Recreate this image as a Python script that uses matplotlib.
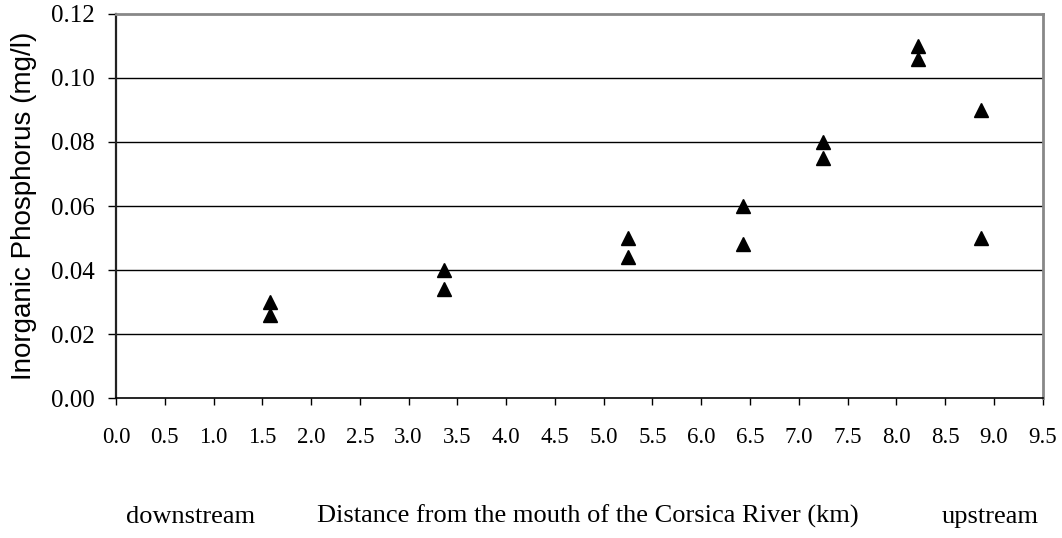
import matplotlib
matplotlib.use("Agg")
import matplotlib.pyplot as plt
import numpy as np

# distance from the mouth (km) and inorganic P (mg/l), two samples per station
distance_km = [1.58, 1.58, 3.36, 3.36, 5.25, 5.25, 6.43, 6.43,
               7.25, 7.25, 8.22, 8.22, 8.87, 8.87]
phosphorus = [0.030, 0.026, 0.040, 0.034, 0.050, 0.044, 0.060, 0.048,
              0.080, 0.075, 0.110, 0.106, 0.090, 0.050]

x_ticks = np.arange(0, 9.51, 0.5)
y_ticks = np.arange(0, 0.121, 0.02)

SERIF = "Liberation Serif"
SANS = "Liberation Sans"

fig = plt.figure(figsize=(10.62, 5.38), dpi=100)
ax = fig.add_axes([0.1092, 0.2602, 0.8726, 0.7138])

for y in y_ticks[1:-1]:
    ax.axhline(y, color="black", lw=1.0, zorder=1)

ax.plot(distance_km, phosphorus, ls="none", marker="^", ms=10.5,
        color="black", zorder=3)

ax.set_xlim(0, 9.5)
ax.set_ylim(0, 0.12)
ax.set_xticks(x_ticks)
ax.set_xticklabels([f"{v:.1f}" for v in x_ticks], fontfamily=SERIF, fontsize=16.5)
ax.set_yticks(y_ticks)
ax.set_yticklabels([f"{v:.2f}" for v in y_ticks], fontfamily=SERIF, fontsize=18)
ax.tick_params(axis="x", direction="out", length=5, width=1, pad=16, color="black")
ax.tick_params(axis="y", direction="out", length=6, width=1, pad=9, color="black")

ax.spines["left"].set_color("#222222")
ax.spines["left"].set_linewidth(1.6)
ax.spines["bottom"].set_color("black")
ax.spines["bottom"].set_linewidth(1.2)
for s in ("top", "right"):
    ax.spines[s].set_color("#888888")
    ax.spines[s].set_linewidth(2)

ax.set_ylabel("Inorganic Phosphorus (mg/l)", fontfamily=SANS, fontsize=20, labelpad=10)

y_txt = 1 - 523 / 538
fig.text(191 / 1062, y_txt, "downstream", fontfamily=SERIF, fontsize=19,
         ha="center", va="baseline")
fig.text(588 / 1062, y_txt, "Distance from the mouth of the Corsica River (km)",
         fontfamily=SERIF, fontsize=19, ha="center", va="baseline")
fig.text(990 / 1062, y_txt, "upstream", fontfamily=SERIF, fontsize=19,
         ha="center", va="baseline")

fig.savefig("out.png", dpi=100)
